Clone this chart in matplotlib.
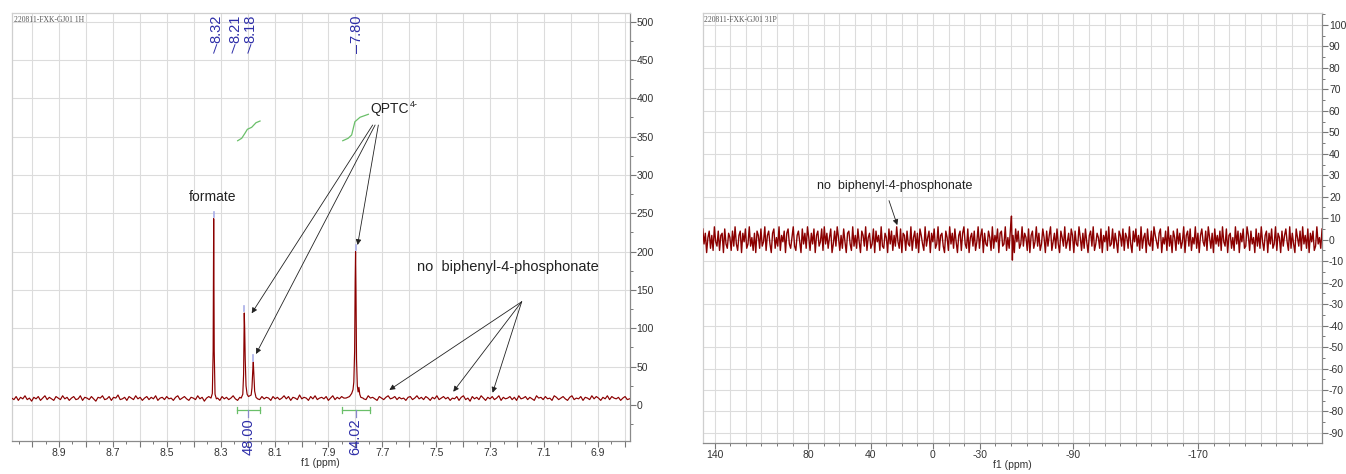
import numpy as np
import matplotlib
matplotlib.use('Agg')
import matplotlib.pyplot as plt
from matplotlib.ticker import MultipleLocator, FuncFormatter, FixedLocator

plt.rcParams['font.family'] = ['Liberation Sans', 'DejaVu Sans']
plt.rcParams['axes.unicode_minus'] = False

# ---------------- 1H spectrum data ----------------
h_title = "220811-FXK-GJ01 1H"
h_xlim = (9.0755, 6.783)
h_ylim = (-47.0, 511.7)
h_noise = [9,7,11,6,10,8,12,7,9,5,10,8,11,6,9,12,7,10,8,6,11,9,7,12,8,10,6,9,11,7,8,12,6,10,9,7,11,8,5,10,
           9,12,7,8,11,6,10,9,13,7,8,10,6,11,9,7,12,8,10,6,9,11,7,10,8,12,6,9,10,7,11,8,9,6,10,12,7,9,11,8,
           6,10,9,7,12,8,10,5,9,11,8,7,10,9,6,11,8,10,7,9,12,8,6,10,9,11,7,8,10,6,9,12,7,11,8,10,9,6,11,8,
           10,7,9,12,8,11,6,10,9,7,13,8,10,9,6,11,8,12,7,9,10,8,11,6,9,12,7,10,8,11,9,7,10,12,8,9,6,11,10,8,
           7,12,9,10,8,6,11,9,7,10,12,8,9,11,7,10,8,9,6,10,11,7,9,12,8,10,7,11,9,6,10,8,12,7,9,11,8,10,6,9,
           8,11,6,10,12,7,9,5,11,8,10,7,12,9,6,10,8,11,7,9,12,6,10,8,9,11,7,10,6,12,8,9,11,7,10,8,6,12,9,10,
           7,11,8,9,6,12,10,7,9,11,8,6,10,12,7,9,8,11,6,10,9,7,12,8,11,9,6,10,8,12,7,11,9,8,10,6,9,11,7,8]
formate_ppm = [8.336, 8.331, 8.328, 8.326, 8.324, 8.321, 8.316]
formate_int = [9, 15, 70, 243, 70, 14, 8]
qptc_a_ppm = [8.224, 8.218, 8.215, 8.2135, 8.2125, 8.211, 8.209, 8.206, 8.202, 8.197, 8.192, 8.187,
              8.184, 8.181, 8.179, 8.177, 8.174, 8.169, 8.163]
qptc_a_int = [9, 14, 40, 94, 120, 100, 60, 25, 14, 11, 12, 13, 22, 45, 56, 40, 18, 10, 8]
qptc_b_ppm = [7.835, 7.822, 7.814, 7.809, 7.806, 7.803, 7.801, 7.7995, 7.798, 7.796, 7.793, 7.790,
              7.787, 7.784, 7.780, 7.772]
qptc_b_int = [9, 11, 15, 20, 30, 70, 160, 200, 150, 60, 25, 17, 23, 14, 10, 9]

peak_label_text = ["8.32", "8.21", "8.18", "7.80"]
peak_label_ppm = [8.315, 8.247, 8.188, 7.798]
peak_tops_ppm = [8.326, 8.2125, 8.179, 7.7995]
peak_tops_int = [243, 120, 56, 200]

integ1_ppm = [8.237, 8.222, 8.210, 8.201, 8.185, 8.169, 8.154]
integ1_val = [344.7, 347.9, 354.4, 359.6, 362.2, 368.2, 370.4]
integ2_ppm = [7.847, 7.827, 7.814, 7.808, 7.802, 7.783, 7.752]
integ2_val = [344.7, 347.9, 352.2, 360.9, 369.5, 375.3, 379.2]
integ_ranges = [(8.241, 8.154), (7.850, 7.746)]
integ_centers = [8.198, 7.799]
integ_values = ["48.00", "64.02"]

# ---------------- 31P spectrum data ----------------
p_title = "220811-FXK-GJ01 31P"
p_xlim = (147.6, -249.4)
p_ylim = (-94.7, 105.6)
p_noise = [5,-2,3,-6,1,4,-4,2,-5,6,-1,-3,4,-5,2,3,-6,5,-2,-4,3,1,-5,4,-3,6,-2,-5,2,4,-6,3,-1,5,-4,-2,6,-3,1,-5,
           3,-6,4,2,-4,5,-3,-1,6,-5,2,4,-2,-6,3,5,-4,1,-3,6,-5,2,-1,4,-6,3,5,-2,-4,1,6,-3,-5,2,4,-1,-6,5,-2,3,
           -4,6,1,-5,3,-2,5,-6,2,4,-3,-1,5,-5,6,-2,3,-4,1,5,-6,-2,4,-3,6,1,-5,2,-4,5,-1,-6,3,4,-2,-5,6,-3,2,-4,
           5,-1,-6,4,2,-3,6,-5,1,3,-4,-2,5,-6,4,-1,2,-5,6,-3,-4,3,1,-6,5,-2,4,-5,2,-3,6,-1,-4,5,-6,3,2,-5,4,-2,
           -3,6,-5,1,4,-4,3,-6,5,2,-2,-5,6,-3,1,4,-6,3,-1,5,-4,-2,6,-5,2,3,-3,-6,4,1,-5,6,-2,3,-4,5,-1,-6,2,4,
           -5,3,6,-2,-4,5,-6,1,3,-3,4,-5,-1,6,-4,2,5,-6,3,-2,-3,4,1,-5,6,-4,2,-1,5,-6,3,4,-3,-2,6,-5,1,-4,5,-3,
           2,-6,5,-1,4,-4,-2,6,-3,3,1,-5,5,-6,2,4,-4,-1,6,-3,3,-5,-2,5,1,-6,4,-3,2,6,-5,-1,3,-4,5,-2,-6,4,1,-3,
           6,-4,-1,3,-5,5,2,-6,4,-2,-3,6,1,-5,3,-4,5,-1,-6,2,4,-3,6,-5,-2,3,1,-4,5,-6,2,-1,4,-5,6,-3,-2,5,-4,3,
           -1,-6,4,2,-3,5,-5,3,1,-4,6,-2,-6,4,-1,5,-3,2,-5,6,-4,1,3,-6,5,-2,-3,4,-5,6,2,-1,-4,3,5,-6,1,-2,4,-5,
           6,-3,2,-6,4,1,-5,5,-2,3,-4,-1,6,-6,2,4,-3,5,-5,1,-2,6,-4,3,-6,2,5,-1,-3,4,-5,6,1,-4,3,-6,5,-2,2,-3,
           4,-5,6,-1,-3,5,-6,2,3,-4,1,-5,6,-2,4,-6,3,-1,5,-4,-3,6,2,-5,4,-2,1,-6,5,-3,3,-4,6,-1,-5,2,4,-6,3,-2,
           5,-4,-2,6,-5,3,1,-6,4,-3,2,5,-1,-5,6,-4,3,-2,-6,5,1,-3,4,-5,6,-2,2,-4,5,-6,3,-1,4,-5,-3,6,-2,1,-4,5]
spike_ppm = [-50.3, -50.9]
spike_int = [11, -9.5]
p_xticks = [140, 80, 40, 0, -30, -90, -170]

SPEC = '#8b0000'
BLUE = '#2e2ea8'
GREEN = '#6abf69'
GRID = '#dcdcdc'


def merge(base_x, base_y, segs):
    bx = np.asarray(base_x, float)
    by = np.asarray(base_y, float)
    keep = np.ones_like(bx, bool)
    xs, ys = [], []
    for sx, sy in segs:
        sx = np.asarray(sx, float)
        keep &= ~((bx >= sx.min()) & (bx <= sx.max()))
        xs.append(sx)
        ys.append(np.asarray(sy, float))
    x = np.concatenate([bx[keep]] + xs)
    y = np.concatenate([by[keep]] + ys)
    o = np.argsort(-x)
    return x[o], y[o]


def style(ax):
    for s in ['left', 'top']:
        ax.spines[s].set_color('#cfcfcf')
    for s in ['right', 'bottom']:
        ax.spines[s].set_color('#8a8a8a')
    for s in ax.spines.values():
        s.set_linewidth(0.9)
    ax.yaxis.tick_right()
    ax.tick_params(which='both', direction='out', color='#777777', labelcolor='#333333',
                   labelsize=7.5, pad=1)
    ax.tick_params(which='major', length=4, width=0.8)
    ax.tick_params(which='minor', length=2.5, width=0.7)
    ax.set_axisbelow(True)


fig = plt.figure(figsize=(13.46, 4.74), dpi=100)

# ================= Left: 1H =================
ax1 = fig.add_axes([0.00869, 0.0696, 0.459, 0.9036])
style(ax1)
bx = np.linspace(h_xlim[0], h_xlim[1], len(h_noise))
x1, y1 = merge(bx, h_noise, [(formate_ppm, formate_int), (qptc_a_ppm, qptc_a_int),
                              (qptc_b_ppm, qptc_b_int)])
ax1.plot(x1, y1, color=SPEC, lw=0.85, zorder=3)
ax1.set_xlim(*h_xlim)
ax1.set_ylim(*h_ylim)
ax1.xaxis.set_major_locator(MultipleLocator(0.1))
ax1.xaxis.set_minor_locator(MultipleLocator(0.05))
ax1.xaxis.set_major_formatter(FuncFormatter(
    lambda v, p: f"{v:.1f}" if int(round(v * 10)) % 2 == 1 else ""))
ax1.yaxis.set_major_locator(MultipleLocator(50))
ax1.yaxis.set_minor_locator(MultipleLocator(25))
ax1.yaxis.set_major_formatter(FuncFormatter(lambda v, p: f"{v:.0f}" if v >= 0 else ""))
ax1.grid(which='major', color=GRID, lw=0.8)
ax1.set_xlabel("f1 (ppm)", fontsize=7.5, color='#333333', labelpad=0)
ax1.text(0.003, 0.993, h_title, transform=ax1.transAxes, ha='left', va='top',
         fontsize=5.5, color='#555555', family=['Liberation Serif', 'DejaVu Serif'])

# peak labels
for txt, lp, pp, pi in zip(peak_label_text, peak_label_ppm, peak_tops_ppm, peak_tops_int):
    ax1.text(lp, 509, txt, rotation=90, ha='center', va='top', fontsize=10.5, color=BLUE)
    dx = 0.0 if txt == "7.80" else 0.011
    ax1.plot([lp, lp + dx], [470, 459], color=BLUE, lw=0.7)
    ax1.plot([pp, pp], [pi + 2, pi + 9], color='#a9aee8', lw=1.2, zorder=4)

# integral curves
ax1.plot(integ1_ppm, integ1_val, color=GREEN, lw=0.9)
ax1.plot(integ2_ppm, integ2_val, color=GREEN, lw=0.9)
for (a, b), c, v in zip(integ_ranges, integ_centers, integ_values):
    ax1.plot([a, b], [-6.5, -6.5], color=GREEN, lw=0.9)
    ax1.plot([a, a], [-10.5, -2.5], color=GREEN, lw=0.9)
    ax1.plot([b, b], [-10.5, -2.5], color=GREEN, lw=0.9)
    ax1.plot([c, c], [-6.5, -15.6], color='#8888cc', lw=0.9)
    ax1.text(c, -17, v, rotation=90, ha='center', va='top', fontsize=10.5, color=BLUE,
             clip_on=False, zorder=6)

arrow_kw = dict(arrowstyle='-|>', color='#222222', lw=0.6, mutation_scale=8,
                shrinkA=0, shrinkB=0)
ax1.text(8.330, 271.3, "formate", ha='center', va='center', fontsize=10, color='#222222')
ax1.text(7.746, 386, "QPTC", ha='left', va='center', fontsize=10, color='#222222')
ax1.text(7.598, 392.6, "4-", ha='left', va='center', fontsize=6.5, color='#222222')
for (ox, oy), (tx, ty) in [((7.736, 365.2), (8.185, 119.6)),
                           ((7.727, 365.2), (8.169, 66.5)),
                           ((7.715, 365.2), (7.792, 208.7))]:
    ax1.annotate("", xy=(tx, ty), xytext=(ox, oy), arrowprops=arrow_kw)
ax1.text(7.573, 180, "no  biphenyl-4-phosphonate", ha='left', va='center',
         fontsize=10.5, color='#222222')
for tx, ty in [(7.674, 19.6), (7.437, 17.3), (7.291, 16.0)]:
    ax1.annotate("", xy=(tx, ty), xytext=(7.183, 134.7), arrowprops=arrow_kw)

# ================= Right: 31P =================
ax2 = fig.add_axes([0.5221, 0.0654, 0.4601, 0.9072])
style(ax2)
px = np.linspace(p_xlim[0], p_xlim[1], len(p_noise))
x2, y2 = merge(px, p_noise, [(spike_ppm, spike_int)])
ax2.plot(x2, y2, color=SPEC, lw=1.0, zorder=3)
ax2.set_xlim(*p_xlim)
ax2.set_ylim(*p_ylim)
ax2.xaxis.set_major_locator(FixedLocator(p_xticks))
ax2.xaxis.set_minor_locator(MultipleLocator(10))
ax2.xaxis.set_major_formatter(FuncFormatter(lambda v, p: f"{v:.0f}"))
ax2.yaxis.set_major_locator(MultipleLocator(10))
ax2.yaxis.set_minor_locator(MultipleLocator(5))
ax2.yaxis.set_major_formatter(FuncFormatter(lambda v, p: f"{v:.0f}"))
ax2.grid(which='major', color=GRID, lw=0.8)
ax2.grid(which='minor', axis='x', color=GRID, lw=0.8)
ax2.grid(which='minor', axis='y', visible=False)
ax2.set_xlabel("f1 (ppm)", fontsize=7.5, color='#333333', labelpad=0)
ax2.text(0.002, 0.993, p_title, transform=ax2.transAxes, ha='left', va='top',
         fontsize=5.5, color='#555555', family=['Liberation Serif', 'DejaVu Serif'])
ax2.text(74.6, 25.2, "no  biphenyl-4-phosphonate", ha='left', va='center',
         fontsize=9, color='#222222')
ax2.annotate("", xy=(22.9, 6.8), xytext=(28.2, 18.2), arrowprops=arrow_kw)

fig.savefig("out.png", dpi=100)
